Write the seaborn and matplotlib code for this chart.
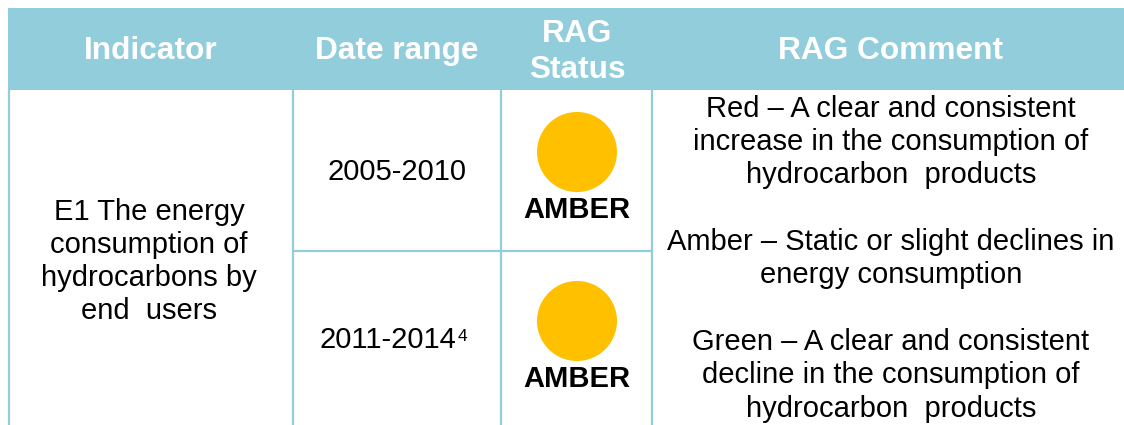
import matplotlib
matplotlib.use("Agg")
import matplotlib.pyplot as plt
from matplotlib.patches import Rectangle
import seaborn as sns
import pandas as pd

# ---- data ----
headers = ["Indicator", "Date range", "RAG\nStatus", "RAG Comment"]
indicator_lines = ["E1 The energy", "consumption of", "hydrocarbons by", "end  users"]
date_ranges = ["2005-2010", "2011-2014"]
footnotes = ["", "4"]
rag_status = ["AMBER", "AMBER"]
rag_colors = {"AMBER": "#FFC000", "RED": "#FF0000", "GREEN": "#00B050"}
comment_lines = [
    "Red \u2013 A clear and consistent",
    "increase in the consumption of",
    "hydrocarbon  products",
    "",
    "Amber \u2013 Static or slight declines in",
    "energy consumption",
    "",
    "Green \u2013 A clear and consistent",
    "decline in the consumption of",
    "hydrocarbon  products",
]

# ---- style ----
sns.set_theme(style="white")
plt.rcParams["font.family"] = ["Liberation Sans", "DejaVu Sans"]

HEAD = "#92CDDC"
W, H = 1124, 425
fig = plt.figure(figsize=(W / 100, H / 100), dpi=100)
ax = fig.add_axes([0, 0, 1, 1])
ax.set_xlim(0, W)
ax.set_ylim(H, 0)

# header band
ax.add_patch(Rectangle((8, 8), W - 8, 82, facecolor=HEAD, edgecolor="none", zorder=1))

# grid lines
col_x = [9, 293, 501, 652]
for x in col_x:
    ax.plot([x, x], [90, H + 5], color=HEAD, lw=1.6, solid_capstyle="butt", zorder=2)
ax.plot([293, 652], [251, 251], color=HEAD, lw=1.6, solid_capstyle="butt", zorder=2)

# header texts
hfs = 22.8
hkw = dict(color="white", fontsize=hfs, fontweight="bold", ha="center", va="baseline", zorder=3)
ax.text(151, 59, headers[0], **hkw)
ax.text(397, 59, headers[1], **hkw)
rag_head = headers[2].split("\n")
ax.text(577, 42, rag_head[0], **hkw)
ax.text(577, 78, rag_head[1], **hkw)
ax.text(891, 59, headers[3], **hkw)

bfs = 21
bkw = dict(color="black", fontsize=bfs, ha="center", va="baseline", zorder=3)

# indicator column
for i, line in enumerate(indicator_lines):
    ax.text(149, 220 + 33 * i, line, **bkw)

# date range column
row_base = [180, 348]
row_cx = [397, 388]
for i, (d, fn) in enumerate(zip(date_ranges, footnotes)):
    ax.text(row_cx[i], row_base[i], d, **bkw)
    if fn:
        ax.text(457.5, row_base[i] - 7, fn, color="black", fontsize=12.5,
                ha="left", va="baseline", zorder=3)

# RAG status circles via seaborn
circ_df = pd.DataFrame({"x": [577, 577], "y": [152, 321], "status": rag_status})
sns.scatterplot(data=circ_df, x="x", y="y", hue="status", palette=rag_colors,
                s=3320, linewidth=0, legend=False, ax=ax, zorder=3)
for yb, st in zip([218, 387], rag_status):
    ax.text(577, yb, st, color="black", fontsize=21, fontweight="bold",
            ha="center", va="baseline", zorder=3)

# comment column
for i, line in enumerate(comment_lines):
    if line:
        ax.text(891, 116.7 + 33.33 * i, line, **bkw)

ax.set_xlim(0, W)
ax.set_ylim(H, 0)
ax.set_axis_off()
fig.savefig("out.png", dpi=100)
